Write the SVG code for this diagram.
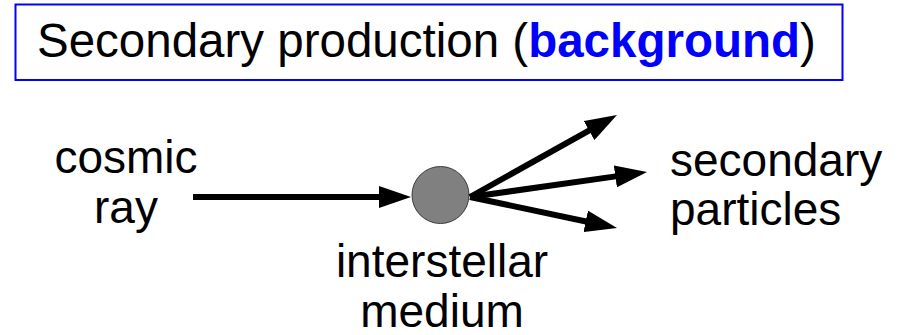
<svg xmlns="http://www.w3.org/2000/svg" width="905" height="335" viewBox="0 0 905 335">
  <style>
    .lbl { font-family: "Liberation Sans", Arial, sans-serif; font-size: 46px; fill: #000; }
    .title { font-family: "Liberation Sans", Arial, sans-serif; font-size: 47.5px; fill: #000; }
    .hl { font-weight: bold; fill: #0000ff; }
    .arrow { fill: none; stroke: #000; stroke-width: 6; marker-end: url(#head); }
  </style>
  <defs>
    <marker id="head" markerUnits="userSpaceOnUse" viewBox="0 0 32 22" markerWidth="32" markerHeight="22" refX="4" refY="11" orient="auto">
      <path d="M0,0 L32,11 L0,22 z" fill="#000"/>
    </marker>
  </defs>

  <rect width="905" height="335" fill="#fff"/>

  <!-- title box -->
  <g id="title">
    <rect x="15.5" y="4.5" width="827" height="75.5" fill="#fff" stroke="#0000ff" stroke-width="2"/>
    <text class="title" x="37" y="57">Secondary production (<tspan class="hl">background</tspan>)</text>
  </g>

  <!-- incoming particle -->
  <g id="cosmic-ray">
    <text class="lbl" x="126" y="173" text-anchor="middle">cosmic</text>
    <text class="lbl" x="126" y="223" text-anchor="middle">ray</text>
  </g>

  <!-- interaction target -->
  <g id="medium">
    <circle cx="440.5" cy="195" r="28.5" fill="#808080" stroke="#3c3c3c" stroke-width="1"/>
    <text class="lbl" x="442" y="277" text-anchor="middle">interstellar</text>
    <text class="lbl" x="442" y="327" text-anchor="middle">medium</text>
  </g>

  <!-- outgoing products -->
  <g id="secondaries">
    <text class="lbl" x="670" y="176">secondary</text>
    <text class="lbl" x="670" y="225">particles</text>
  </g>

  <g id="connectors">
    <path class="arrow" d="M193,197 L383,197"/>
    <path class="arrow" d="M470,197 L592.5,128.6"/>
    <path class="arrow" d="M470,197 L619.3,175.9"/>
    <path class="arrow" d="M470,197 L589.6,222.2"/>
  </g>
</svg>
